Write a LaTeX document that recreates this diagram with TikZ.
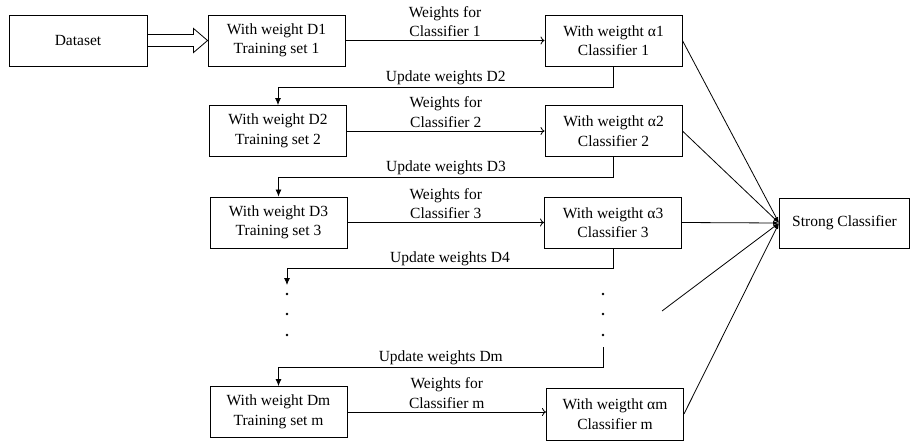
\documentclass[tikz,border=0pt]{standalone}
\usepackage{fontspec}
\setmainfont{Liberation Serif}
\usetikzlibrary{arrows.meta,calc}
\begin{document}
\begin{tikzpicture}[x=1pt,y=-1pt,
  txt/.style={font=\fontsize{15.5}{19.5}\selectfont},
  box/.style={txt, draw, line width=0.9pt, minimum width=137pt, minimum height=51pt, align=center, inner sep=0pt},
  lbl/.style={txt, align=center, inner sep=1pt},
  wline/.style={line width=0.8pt, -{To[length=4pt,width=8pt]}},
  uline/.style={line width=0.8pt, -{Latex[length=7pt,width=6pt]}},
  cline/.style={line width=0.8pt, -{Latex[length=6pt,width=4pt]}},
  dotn/.style={circle, fill, inner sep=0pt, minimum size=2.6pt}]
\useasboundingbox (0,0) rectangle (910,442);

% boxes
\node[box, minimum width=138pt] (ds) at (78,40.5) {Dataset};
\node[box] (t1) at (276.5,40.5) {With weight D1\\Training set 1};
\node[box] (c1) at (613.5,40.5) {With weigtht α1\\Classifier 1};
\node[box] (t2) at (278,131) {With weight D2\\Training set 2};
\node[box] (c2) at (613.5,131) {With weigtht α2\\Classifier 2};
\node[box] (t3) at (278.5,222.5) {With weight D3\\Training set 3};
\node[box] (c3) at (613,222.5) {With weigtht α3\\Classifier 3};
\node[box] (tm) at (278.5,412) {With weight Dm\\Training set m};
\node[box, minimum height=52pt] (cm) at (615,414) {With weigtht αm\\Classifier m};
\node[box, minimum width=130pt, minimum height=50pt] (sc) at (844.5,223) {Strong Classifier};

% hollow double arrow
\draw[line width=0.8pt, line join=miter]
  ($(ds.east)+(0,-6)$) -- ($(t1.west)+(-14,-6)$) -- ($(t1.west)+(-14,-12)$) -- (t1.west)
  -- ($(t1.west)+(-14,12)$) -- ($(t1.west)+(-14,6)$) -- ($(ds.east)+(0,6)$);

% weights arrows
\draw[wline] (t1) -- node[lbl, above=2pt] {Weights for\\Classifier 1} (c1);
\draw[wline] (t2) -- node[lbl, above=2pt] {Weights for\\Classifier 2} (c2);
\draw[wline] (t3) -- node[lbl, above=2pt] {Weights for\\Classifier 3} (c3);
\draw[wline] (tm.east) -- node[lbl, above=2pt] {Weights for\\Classifier m} (tm.east -| cm.west);

% update arrows
\draw[uline] (c1.south) -- ++(0,21) -| node[lbl, pos=0.25, above=1pt] {Update weights D2} (t2.north);
\draw[uline] (c2.south) -- ++(0,20.5) -| node[lbl, pos=0.25, above=1pt] {Update weights D3} (t3.north);
\coordinate (d4end) at (287,285);
\draw[uline] (c3.south) -- ++(0,20) -| node[lbl, pos=0.25, above=1pt] {Update weights D4} (d4end);
\coordinate (dmstart) at (603,347);
\draw[uline] (dmstart) -- ++(0,20) -| node[lbl, pos=0.25, above=1pt] {Update weights Dm} (tm.north);

% dots
\node[dotn] (l1) at (287,294) {};
\node[dotn] (l2) at (287,314) {};
\node[dotn] (l3) at (287,335) {};
\node[dotn] (r1) at (603,294) {};
\node[dotn] (r2) at (603,314) {};
\node[dotn] (r3) at (603,335) {};

% converging lines
\coordinate (free) at (662,311);
\draw[cline] (c1.east) -- (sc.west);
\draw[cline] (c2.east) -- (sc.west);
\draw[cline] (c3.east) -- (sc.west);
\draw[cline] (free) -- (sc.west);
\draw[cline] (cm.east) -- (sc.west);
\end{tikzpicture}
\end{document}
